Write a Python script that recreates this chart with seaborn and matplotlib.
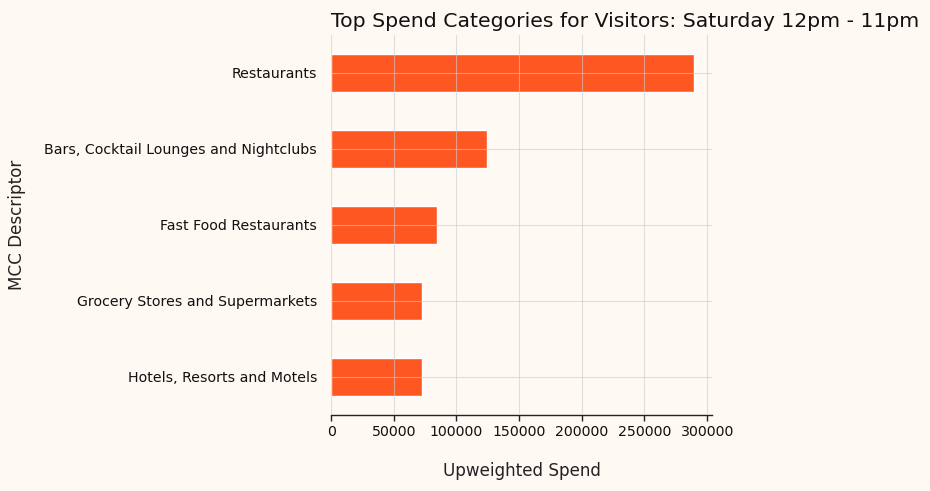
import matplotlib
matplotlib.use("Agg")
import matplotlib.pyplot as plt
import seaborn as sns
import pandas as pd

categories = [
    "Restaurants",
    "Bars, Cocktail Lounges and Nightclubs",
    "Fast Food Restaurants",
    "Grocery Stores and Supermarkets",
    "Hotels, Resorts and Motels",
]
spend = [289700, 124400, 84200, 72600, 72500]
xticks = [0, 50000, 100000, 150000, 200000, 250000, 300000]

df = pd.DataFrame({"MCC Descriptor": categories, "Upweighted Spend": spend})

bg = "#fff9f4"
sns.set_theme(style="white")
plt.rcParams["font.family"] = ["DejaVu Sans"]

fig, ax = plt.subplots(figsize=(9.3, 4.91), dpi=100)
fig.patch.set_facecolor(bg)
ax.set_facecolor(bg)

sns.barplot(data=df, x="Upweighted Spend", y="MCC Descriptor", orient="h",
            color="#ff5722", saturation=1, width=0.5, ax=ax)

ax.set_axisbelow(False)
ax.grid(True, color="#cccccc", alpha=0.6, linewidth=0.8)
ax.set_xlim(0, max(spend) * 1.05)
ax.set_xticks(xticks)
ax.set_xticklabels([str(v) for v in xticks])

for s in ["top", "right", "left"]:
    ax.spines[s].set_visible(False)
ax.spines["bottom"].set_color("#222222")
ax.spines["bottom"].set_linewidth(1.0)
ax.tick_params(axis="x", bottom=True, length=4, width=1, color="#222222", labelsize=10.2, labelcolor="#111111")
ax.tick_params(axis="y", left=False, labelsize=10.2, labelcolor="#111111", pad=4)

ax.set_title("Top Spend Categories for Visitors: Saturday 12pm - 11pm", loc="left",
             fontsize=14.7, color="#111111")
ax.set_xlabel("Upweighted Spend", fontsize=12.1, labelpad=16, color="#222222")
ax.set_ylabel("MCC Descriptor", fontsize=12.1, labelpad=13, color="#222222")

fig.subplots_adjust(left=0.356, right=0.766, top=0.929, bottom=0.155)
fig.savefig("out.png", dpi=100, facecolor=bg)
